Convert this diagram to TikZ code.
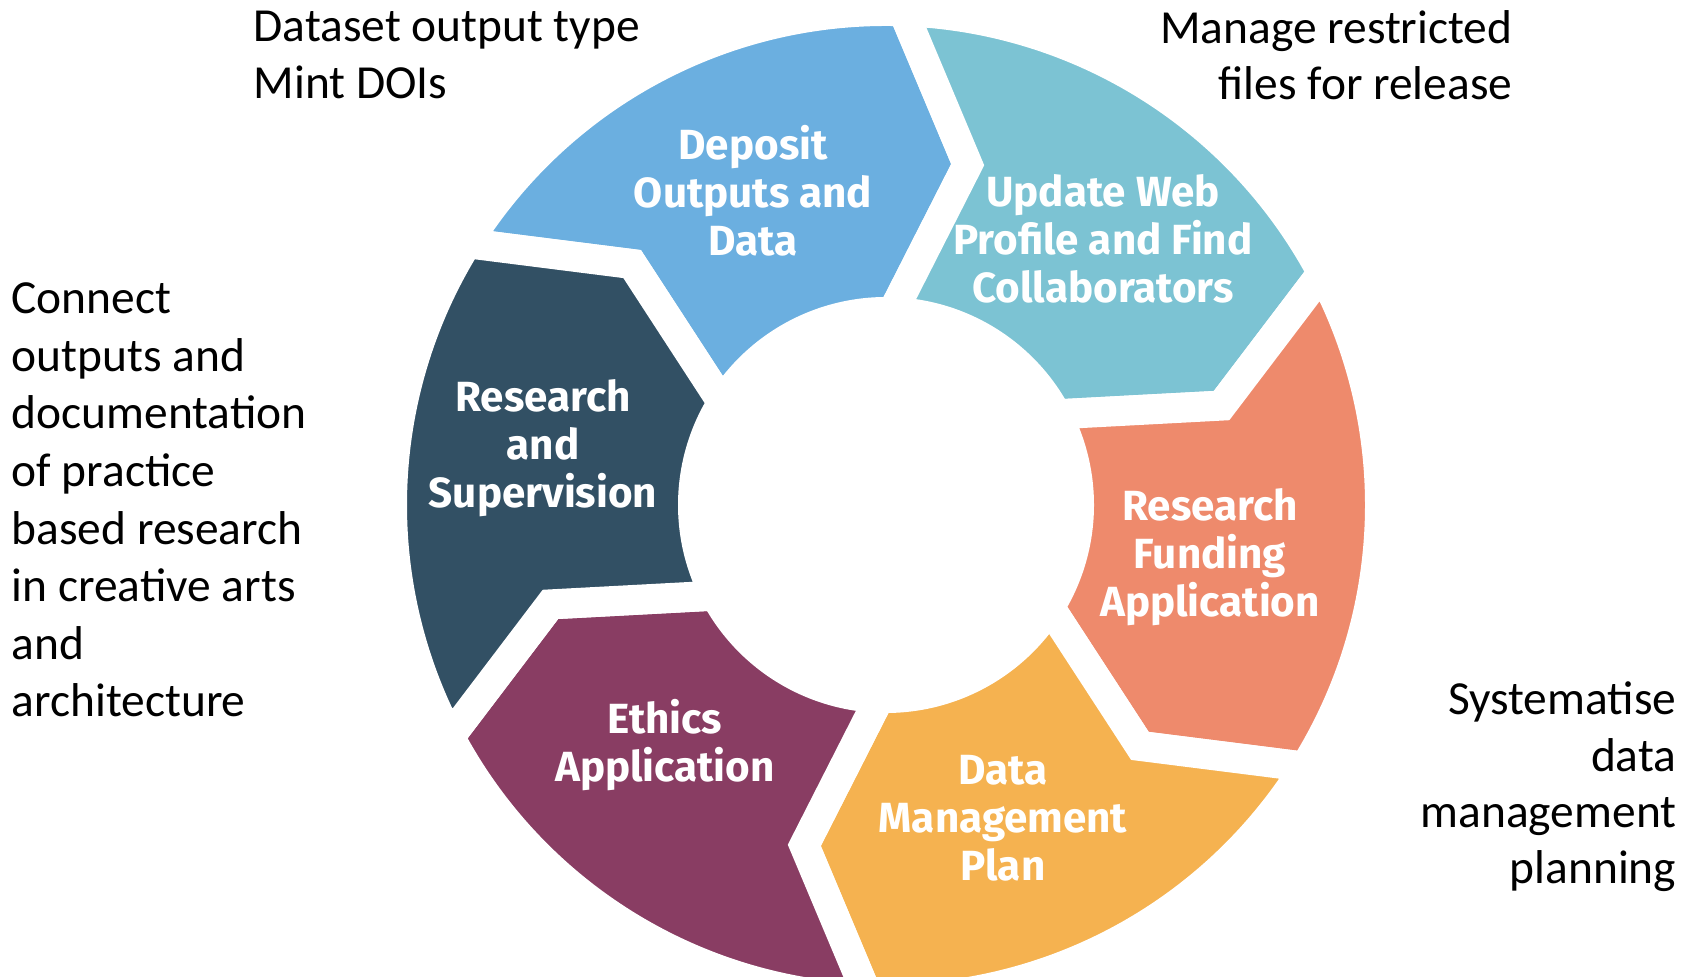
\documentclass[tikz,border=0pt]{standalone}
\usepackage{fontspec}
\setmainfont{Carlito}
\newfontfamily\partfont{Fira Sans}
\usepackage{xcolor}
\usetikzlibrary{calc}

\definecolor{depositblue}{RGB}{107,175,224}
\definecolor{webteal}{RGB}{124,195,211}
\definecolor{fundsalmon}{RGB}{238,138,108}
\definecolor{dmpamber}{RGB}{245,178,80}
\definecolor{ethicsplum}{RGB}{137,61,99}
\definecolor{supslate}{RGB}{50,80,100}

\def\Rout{4.94cm}
\def\Rin{1.93cm}
\def\Rmid{3.5cm}
% one chevron of the ring, from angle #1 clockwise over 60 degrees
\newcommand{\cyclepart}[2]{%
  \path[part, fill=#2] (#1:\Rout) arc[start angle=#1, end angle=#1-60, radius=\Rout]
    -- (#1-71.5:\Rmid) -- (#1-60:\Rin) arc[start angle=#1-60, end angle=#1, radius=\Rin]
    -- (#1-11.5:\Rmid) -- cycle;}

\begin{document}
\begin{tikzpicture}[part/.style={draw=white, line width=0.30cm, line join=miter},
    steptext/.style={text=white, align=center, font=\partfont\bfseries\fontsize{12}{13.6}\selectfont},
    note/.style={text=black, inner sep=0pt, font=\fontsize{13.5}{16}\selectfont}]
  \useasboundingbox (-8.86,-4.72) rectangle (8.01,5.05);

  \cyclepart{148}{depositblue}
  \cyclepart{88}{webteal}
  \cyclepart{28}{fundsalmon}
  \cyclepart{-32}{dmpamber}
  \cyclepart{-92}{ethicsplum}
  \cyclepart{-152}{supslate}

  \node[steptext] (deposit) at (-1.33,3.14) {Deposit\\Outputs and\\Data};
  \node[steptext] (web) at (2.17,2.66) {Update Web\\Profile and Find\\Collaborators};
  \node[steptext] (funding) at (3.24,-0.52) {Research\\Funding\\Application};
  \node[steptext] (dmp) at (1.17,-3.13) {Data\\Management\\Plan};
  \node[steptext] (ethics) at (-2.21,-2.40) {Ethics\\Application};
  \node[steptext] (supervision) at (-3.43,0.57) {Research\\and\\Supervision};

  \node[note, anchor=west, align=left] (doi) at (-6.33,4.50) {Dataset output type\\Mint DOIs};
  \node[note, anchor=east, align=right] (release) at (6.27,4.50) {Manage restricted\\files for release};
  \node[note, anchor=west, align=left, font=\fontsize{13.5}{16.4}\selectfont] (practice) at (-8.75,0.05) {Connect\\outputs and\\documentation\\of practice\\based research\\in creative arts\\and\\architecture};
  \node[note, anchor=east, align=right] (planning) at (7.91,-2.82) {Systematise\\data\\management\\planning};
\end{tikzpicture}
\end{document}
